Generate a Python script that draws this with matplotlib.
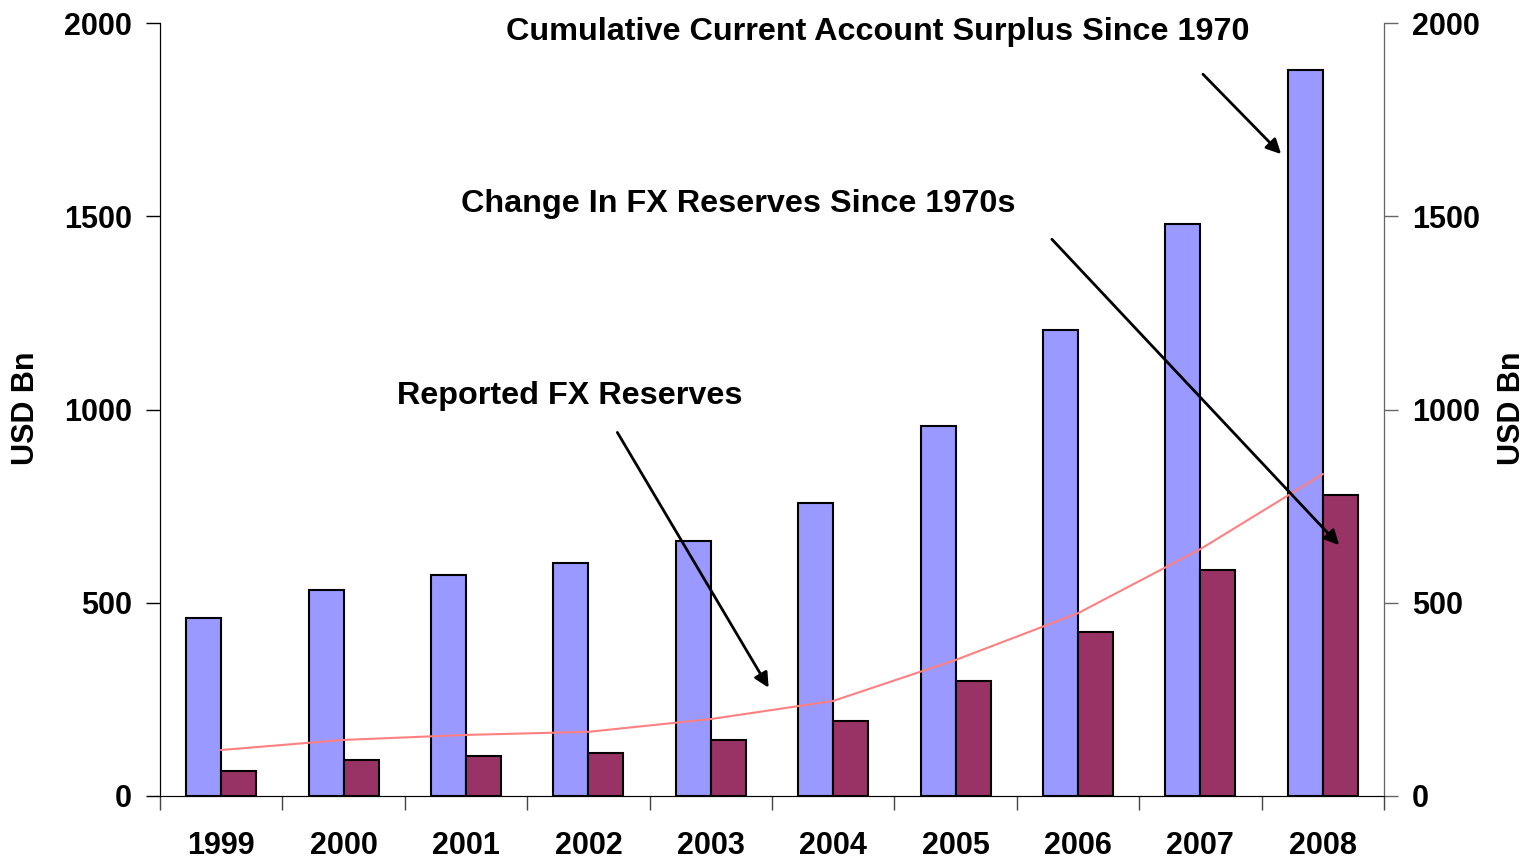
import matplotlib.pyplot as plt
import numpy as np

plt.rcParams['font.family'] = ['Liberation Sans', 'DejaVu Sans']

years = ['1999', '2000', '2001', '2002', '2003', '2004', '2005', '2006', '2007', '2008']
cumulative_surplus = [460, 533, 572, 603, 660, 758, 957, 1206, 1480, 1878]
change_fx_reserves = [65, 93, 103, 111, 145, 194, 298, 424, 585, 779]
reported_fx = [119, 145, 158, 166, 199, 246, 352, 473, 639, 833]

fig = plt.figure(figsize=(15.31, 8.58), dpi=100)
ax = fig.add_axes([0.1045, 0.0723, 0.7995, 0.9007])

x = np.arange(len(years))
w = 0.286
ax.bar(x - w / 2, cumulative_surplus, width=w, color='#9999FF',
       edgecolor='black', linewidth=1.5, zorder=2)
ax.bar(x + w / 2, change_fx_reserves, width=w, color='#993366',
       edgecolor='black', linewidth=1.5, zorder=2)
ax.plot(x, reported_fx, color='#FF8080', linewidth=1.5, zorder=3)

ax.set_xlim(-0.5, len(years) - 0.5)
ax.set_ylim(0, 2000)
ax.set_yticks([0, 500, 1000, 1500, 2000])
ax.set_xticks(x)
ax.set_xticklabels(years)
ax.set_xticks(np.arange(-0.5, len(years)), minor=True)
ax.tick_params(axis='x', which='major', length=0, pad=25, labelsize=22)
ax.tick_params(axis='x', which='minor', length=10, width=1, color='#444444')
ax.tick_params(axis='y', length=10, width=1, pad=10, labelsize=22)
for lab in ax.get_xticklabels() + ax.get_yticklabels():
    lab.set_fontweight('bold')

ax.spines['top'].set_visible(False)
ax.spines['bottom'].set_color('#444444')

ax2 = ax.twinx()
ax2.set_ylim(0, 2000)
ax2.set_yticks([0, 500, 1000, 1500, 2000])
ax2.tick_params(axis='y', length=10, width=1, pad=10, labelsize=22, color='#666666')
for lab in ax2.get_yticklabels():
    lab.set_fontweight('bold')
ax2.spines['top'].set_visible(False)
ax2.spines['right'].set_color('#666666')

# axis titles on both sides, read bottom to top
fig.text(26 / 1531, 1 - 408 / 858, 'USD Bn', rotation=90, ha='center', va='center',
         fontsize=22, fontweight='bold')
fig.text(1512 / 1531, 1 - 408 / 858, 'USD Bn', rotation=90, ha='center', va='center',
         fontsize=22, fontweight='bold')

arrow = dict(arrowstyle='-|>', color='black', lw=2, mutation_scale=22)
ax.annotate('', xy=(8.675, 1656), xytext=(8.005, 1873), arrowprops=arrow, zorder=5)
ax.annotate('', xy=(9.149, 644), xytext=(6.771, 1446), arrowprops=arrow, zorder=5)
ax.annotate('', xy=(4.484, 274), xytext=(3.225, 947), arrowprops=arrow, zorder=5)

ax.text(5.366, 1977, 'Cumulative Current Account Surplus Since 1970', ha='center', va='center',
        fontsize=23.3, fontweight='bold')
ax.text(4.222, 1531, 'Change In FX Reserves Since 1970s', ha='center', va='center',
        fontsize=23.3, fontweight='bold')
ax.text(2.85, 1035, 'Reported FX Reserves', ha='center', va='center',
        fontsize=23.3, fontweight='bold')

fig.savefig('out.png', dpi=100)
